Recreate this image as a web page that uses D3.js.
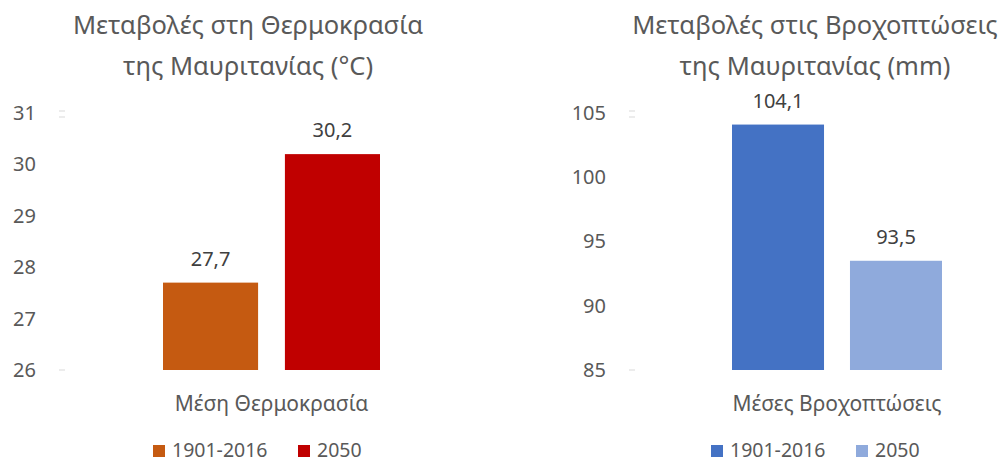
<!DOCTYPE html>
<html>
<head>
<meta charset="utf-8">
<script src="https://cdn.jsdelivr.net/npm/d3@7"></script>
<style>
  body { margin: 0; background: #fff; }
  svg { display: block; font-family: "Noto Sans", "Open Sans", sans-serif; }
</style>
</head>
<body>
<svg width="1000" height="463"></svg>
<script>
// data
const seriesNames = ["1901-2016", "2050"]

const tempTitle = ["Μεταβολές στη Θερμοκρασία", "της Μαυριτανίας (°C)"]
const tempCategory = "Μέση Θερμοκρασία"
const tempValues = [27.7, 30.2]
const tempTicks = [26, 27, 28, 29, 30, 31]
const tempColors = ["#c55a11", "#c00000"]

const rainTitle = ["Μεταβολές στις Βροχοπτώσεις", "της Μαυριτανίας (mm)"]
const rainCategory = "Μέσες Βροχοπτώσεις"
const rainValues = [104.1, 93.5]
const rainTicks = [85, 90, 95, 100, 105]
const rainColors = ["#4472c4", "#8faadc"]

const svg = d3.select("svg")
const fmt = v => d3.format(".1f")(v).replace(".", ",")

// draw one panel
function panel(opt) {
  const g = svg.append("g")

  const y = d3.scaleLinear()
    .domain(d3.extent(opt.ticks))
    .range([370, 113])

  const x = d3.scaleBand()
    .domain(seriesNames)
    .range([opt.x0, opt.x1])
    .paddingInner(0.22)
    .paddingOuter(0)

  // title
  g.selectAll("text.title")
    .data(opt.title)
    .enter()
    .append("text")
    .attr("x", opt.cx)
    .attr("y", (d, i) => 34 + i * 41)
    .attr("text-anchor", "middle")
    .attr("font-size", 25.5)
    .attr("fill", "#595959")
    .text(d => d)

  // y axis
  const axis = d3.axisLeft(y).tickValues(opt.ticks).tickFormat(d3.format("d"))
    .tickSize(0).tickPadding(0)
  const ag = g.append("g")
    .attr("transform", `translate(${opt.labelX},0)`)
    .call(axis)
  ag.select(".domain").remove()
  ag.selectAll("text")
    .attr("font-size", 20)
    .attr("fill", "#595959")
    .attr("font-family", "Noto Sans, sans-serif")

  // small tick dashes left over at the axis ends
  const lo = d3.min(opt.ticks), hi = d3.max(opt.ticks)
  g.selectAll("line.dash")
    .data([[lo, 0], [hi, -2], [hi, 4]])
    .enter()
    .append("line")
    .attr("x1", opt.dashX)
    .attr("x2", opt.dashX + 6)
    .attr("y1", d => y(d[0]) + d[1])
    .attr("y2", d => y(d[0]) + d[1])
    .attr("stroke", "#d9d9d9")
    .attr("stroke-width", 1)

  // bars
  g.selectAll("rect.bar")
    .data(opt.values)
    .enter()
    .append("rect")
    .attr("x", (d, i) => x(seriesNames[i]))
    .attr("y", d => y(d))
    .attr("width", x.bandwidth())
    .attr("height", d => y(lo) - y(d))
    .attr("fill", (d, i) => opt.colors[i])

  // value labels
  g.selectAll("text.val")
    .data(opt.values)
    .enter()
    .append("text")
    .attr("x", (d, i) => x(seriesNames[i]) + x.bandwidth() / 2)
    .attr("y", d => y(d) - 17)
    .attr("text-anchor", "middle")
    .attr("font-size", 20)
    .attr("fill", "#404040")
    .text(d => fmt(d))

  // category label
  g.append("text")
    .attr("x", (opt.x0 + opt.x1) / 2)
    .attr("y", 411)
    .attr("text-anchor", "middle")
    .attr("font-size", 21)
    .attr("fill", "#595959")
    .text(opt.category)

  // legend
  const lg = g.selectAll("g.leg")
    .data(seriesNames)
    .enter()
    .append("g")
    .attr("transform", (d, i) => `translate(${opt.legX[i]},445)`)
  lg.append("rect")
    .attr("width", 12)
    .attr("height", 12)
    .attr("fill", (d, i) => opt.colors[i])
  lg.append("text")
    .attr("x", 19)
    .attr("y", 12)
    .attr("font-size", 19.5)
    .attr("fill", "#595959")
    .text(d => d)
}

panel({
  title: tempTitle, category: tempCategory, values: tempValues,
  ticks: tempTicks, colors: tempColors,
  cx: 248, x0: 163, x1: 380, labelX: 36, dashX: 59, legX: [153, 298]
})

panel({
  title: rainTitle, category: rainCategory, values: rainValues,
  ticks: rainTicks, colors: rainColors,
  cx: 815, x0: 732, x1: 942, labelX: 606, dashX: 629, legX: [711, 856]
})
</script>
</body>
</html>
